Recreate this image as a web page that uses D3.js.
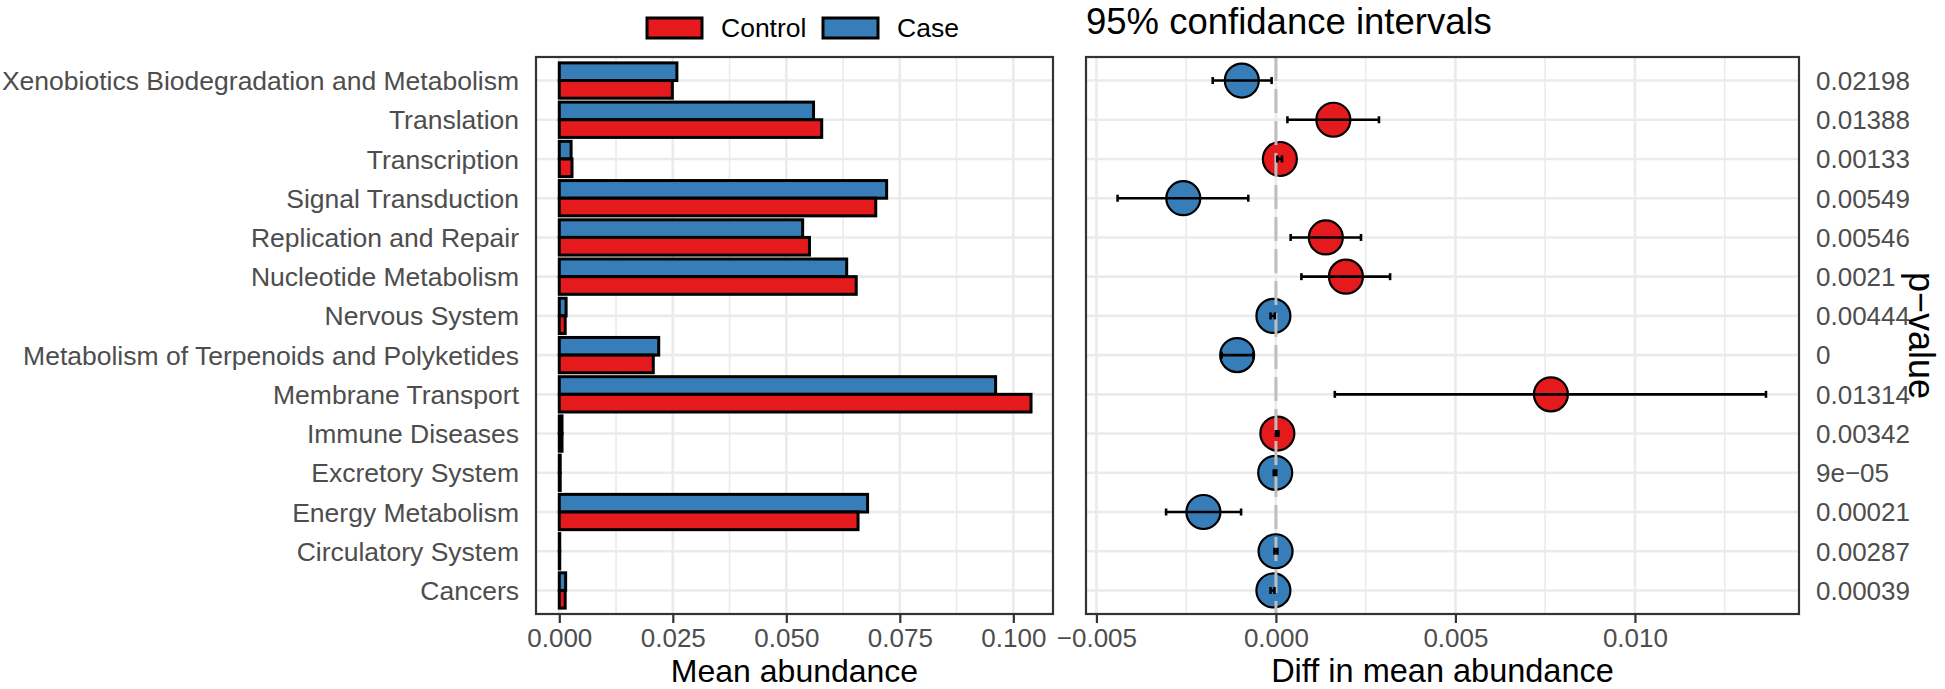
<!DOCTYPE html>
<html>
<head>
<meta charset="utf-8">
<script src="https://cdn.jsdelivr.net/npm/d3@7"></script>
<style>
  html, body { margin: 0; padding: 0; background: #fff; }
  svg { display: block; }
  text { font-family: "Liberation Sans", Arial, Helvetica, sans-serif; }
</style>
</head>
<body>
<script>
// ---------------- data ----------------
const categories = [
  "Xenobiotics Biodegradation and Metabolism",
  "Translation",
  "Transcription",
  "Signal Transduction",
  "Replication and Repair",
  "Nucleotide Metabolism",
  "Nervous System",
  "Metabolism of Terpenoids and Polyketides",
  "Membrane Transport",
  "Immune Diseases",
  "Excretory System",
  "Energy Metabolism",
  "Circulatory System",
  "Cancers"
];
const groups = ["Control", "Case"];
const groupColors = ["#E41A1C", "#377EB8"];
const controlMeans = [0.0249, 0.0578, 0.0028, 0.0697, 0.0551, 0.0654, 0.0013, 0.0207, 0.1039, 0.0006, 0.0002, 0.0658, 0.0001, 0.0013];
const caseMeans    = [0.0259, 0.0560, 0.0026, 0.0721, 0.0536, 0.0633, 0.0015, 0.0219, 0.0961, 0.0006, 0.0002, 0.0679, 0.0001, 0.0014];
const diffEstimate = [-0.00095, 0.00160, 0.00011, -0.00258, 0.00139, 0.00195, -0.00007, -0.00108, 0.00766, 0.00004, -0.00002, -0.00202, -0.00001, -0.00007];
const diffLower    = [-0.00176, 0.00032, 0.00004, -0.00441, 0.00041, 0.00071, -0.00015, -0.00151, 0.00164, 0.00000, -0.00006, -0.00306, -0.00004, -0.00015];
const diffUpper    = [-0.00012, 0.00287, 0.00017, -0.00077, 0.00237, 0.00318, -0.00003, -0.00063, 0.01365, 0.00007, 0.00001, -0.00097, 0.00004, -0.00004];
const pValues = ["0.02198", "0.01388", "0.00133", "0.00549", "0.00546", "0.0021", "0.00444", "0", "0.01314", "0.00342", "9e\u221205", "0.00021", "0.00287", "0.00039"];
const leftTicks = [0, 0.025, 0.05, 0.075, 0.1];
const leftMinor = [0.0125, 0.0375, 0.0625, 0.0875];
const rightTicks = [-0.005, 0, 0.005, 0.01];
const rightMinor = [-0.0025, 0.0025, 0.0075, 0.0125];

// ---------------- layout ----------------
const W = 1945, H = 689;
const panelTop = 57, panelBottom = 614;
const L = { x0: 536, x1: 1053 };
const R = { x0: 1086, x1: 1799 };
const gridCol = "#EBEBEB", borderCol = "#333333";
const axisTextCol = "#4D4D4D";

const svg = d3.select("body").append("svg").attr("width", W).attr("height", H);
svg.append("rect").attr("width", W).attr("height", H).attr("fill", "#fff");

const y = d3.scalePoint().domain(categories).range([panelTop, panelBottom]).padding(0.6);
const step = y.step();
const yGroup = d3.scaleBand().domain(["Case", "Control"]).range([-0.45 * step, 0.45 * step]).padding(0);
const colorScale = d3.scaleOrdinal().domain(groups).range(groupColors);

const xL = d3.scaleLinear().domain([-0.00513, 0.10874]).range([L.x0, L.x1]);
const xR = d3.scaleLinear().domain([-0.00529, 0.01457]).range([R.x0, R.x1]);

function drawGrid(g, x, p, major, minor) {
  g.append("rect").attr("x", p.x0).attr("y", panelTop).attr("width", p.x1 - p.x0).attr("height", panelBottom - panelTop).attr("fill", "#fff");
  g.selectAll(".minor").data(minor).join("line")
    .attr("x1", d => x(d)).attr("x2", d => x(d)).attr("y1", panelTop).attr("y2", panelBottom)
    .attr("stroke", gridCol).attr("stroke-width", 1.6);
  g.selectAll(".major").data(major).join("line")
    .attr("x1", d => x(d)).attr("x2", d => x(d)).attr("y1", panelTop).attr("y2", panelBottom)
    .attr("stroke", gridCol).attr("stroke-width", 2.6);
  g.selectAll(".hmajor").data(categories).join("line")
    .attr("x1", p.x0).attr("x2", p.x1).attr("y1", d => y(d)).attr("y2", d => y(d))
    .attr("stroke", gridCol).attr("stroke-width", 2.6);
}
function drawBorder(g, p) {
  g.append("rect").attr("x", p.x0).attr("y", panelTop).attr("width", p.x1 - p.x0).attr("height", panelBottom - panelTop)
    .attr("fill", "none").attr("stroke", borderCol).attr("stroke-width", 2.2);
}
function drawXAxis(x, ticks, fmt) {
  const ax = d3.axisBottom(x).tickValues(ticks).tickFormat(fmt).tickSize(9).tickPadding(5.5);
  const g = svg.append("g").attr("transform", `translate(0,${panelBottom})`).call(ax);
  g.select(".domain").remove();
  g.selectAll(".tick line").attr("stroke", borderCol).attr("stroke-width", 2.2);
  g.selectAll(".tick text").attr("fill", axisTextCol).attr("font-size", 26)
    .attr("font-family", "'Liberation Sans', Arial, sans-serif");
}

// ---------------- left panel: bars ----------------
const gL = svg.append("g");
drawGrid(gL, xL, L, leftTicks, leftMinor);
const barData = [];
categories.forEach((c, i) => {
  barData.push({ cat: c, group: "Case", value: caseMeans[i] });
  barData.push({ cat: c, group: "Control", value: controlMeans[i] });
});
gL.selectAll(".bar").data(barData).join("rect")
  .attr("x", xL(0))
  .attr("y", d => y(d.cat) + yGroup(d.group))
  .attr("width", d => xL(d.value) - xL(0))
  .attr("height", yGroup.bandwidth())
  .attr("fill", d => colorScale(d.group))
  .attr("stroke", "#000").attr("stroke-width", 3);
drawBorder(gL, L);
drawXAxis(xL, leftTicks, d3.format(".3f"));

// y labels
svg.append("g").selectAll("text").data(categories).join("text")
  .attr("x", L.x0 - 17).attr("y", d => y(d)).attr("dy", "0.36em")
  .attr("text-anchor", "end").attr("font-size", 26.5).attr("fill", axisTextCol)
  .text(d => d);

// ---------------- right panel: CI ----------------
const gR = svg.append("g");
drawGrid(gR, xR, R, rightTicks, rightMinor);
const ciData = categories.map((c, i) => ({
  cat: c, est: diffEstimate[i], lo: diffLower[i], hi: diffUpper[i],
  group: diffEstimate[i] > 0 ? "Control" : "Case"
}));
gR.selectAll(".pt").data(ciData).join("circle")
  .attr("cx", d => xR(d.est)).attr("cy", d => y(d.cat)).attr("r", 17)
  .attr("fill", d => colorScale(d.group)).attr("stroke", "#000").attr("stroke-width", 2.2);
gR.append("line")
  .attr("x1", xR(0)).attr("x2", xR(0)).attr("y1", panelTop).attr("y2", panelBottom)
  .attr("stroke", "#BEBEBE").attr("stroke-width", 3).attr("stroke-dasharray", "24,8");
const eb = gR.selectAll(".eb").data(ciData).join("g");
eb.append("line").attr("x1", d => xR(d.lo)).attr("x2", d => xR(d.hi))
  .attr("y1", d => y(d.cat)).attr("y2", d => y(d.cat)).attr("stroke", "#000").attr("stroke-width", 2.6);
eb.append("line").attr("x1", d => xR(d.lo)).attr("x2", d => xR(d.lo))
  .attr("y1", d => y(d.cat) - 3.5).attr("y2", d => y(d.cat) + 3.5).attr("stroke", "#000").attr("stroke-width", 2.6);
eb.append("line").attr("x1", d => xR(d.hi)).attr("x2", d => xR(d.hi))
  .attr("y1", d => y(d.cat) - 3.5).attr("y2", d => y(d.cat) + 3.5).attr("stroke", "#000").attr("stroke-width", 2.6);
drawBorder(gR, R);
drawXAxis(xR, rightTicks, d3.format(".3f"));

// p-value labels
svg.append("g").selectAll("text").data(pValues).join("text")
  .attr("x", R.x1 + 17).attr("y", (d, i) => y(categories[i])).attr("dy", "0.36em")
  .attr("text-anchor", "start").attr("font-size", 26).attr("fill", axisTextCol)
  .text(d => d);

// axis titles
svg.append("text").attr("x", (L.x0 + L.x1) / 2).attr("y", 682).attr("text-anchor", "middle")
  .attr("font-size", 32).attr("fill", "#000").text("Mean abundance");
svg.append("text").attr("x", (R.x0 + R.x1) / 2).attr("y", 682).attr("text-anchor", "middle")
  .attr("font-size", 32.5).attr("fill", "#000").text("Diff in mean abundance");
svg.append("text").attr("transform", `translate(1909,${(panelTop + panelBottom) / 2}) rotate(90)`)
  .attr("text-anchor", "middle").attr("font-size", 36).attr("fill", "#000").text("p\u2212value");

// title
svg.append("text").attr("x", R.x0).attr("y", 34).attr("font-size", 36.5).attr("fill", "#000")
  .text("95% confidance intervals");

// legend
const legend = svg.append("g");
const legendX = [647, 823];
groups.forEach((gname, i) => {
  legend.append("rect").attr("x", legendX[i]).attr("y", 18).attr("width", 55).attr("height", 20)
    .attr("fill", colorScale(gname)).attr("stroke", "#000").attr("stroke-width", 3);
  legend.append("text").attr("x", legendX[i] + 74).attr("y", 37).attr("font-size", 26.5).attr("fill", "#000").text(gname);
});
</script>
</body>
</html>
